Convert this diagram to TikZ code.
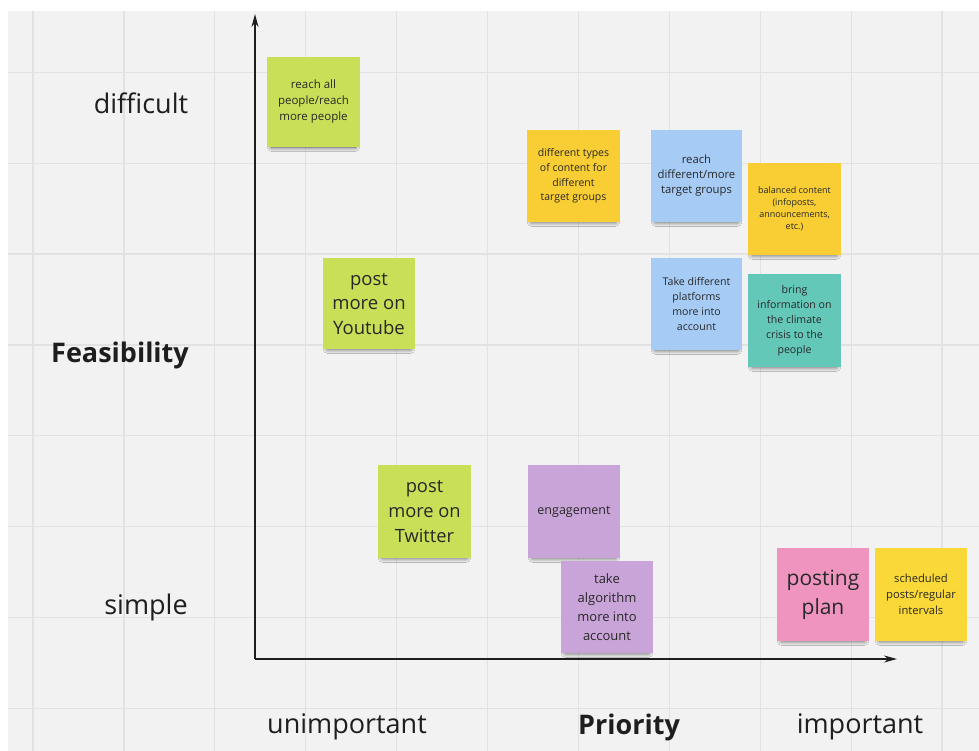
\documentclass[tikz,border=0pt]{standalone}
\usepackage{fontspec}
\setmainfont{Open Sans}
\usetikzlibrary{arrows.meta,shadows.blur}

% board colours
\definecolor{boardbg}{RGB}{242,242,242}
\definecolor{gridline}{RGB}{226,226,226}
\definecolor{axisink}{RGB}{30,30,30}
\definecolor{notetext}{RGB}{40,40,40}
% sticky-note colours
\definecolor{notelime}{RGB}{201,223,88}
\definecolor{noteamber}{RGB}{248,206,52}
\definecolor{noteyellow}{RGB}{249,216,55}
\definecolor{noteblue}{RGB}{166,204,245}
\definecolor{noteteal}{RGB}{100,200,185}
\definecolor{noteviolet}{RGB}{201,164,216}
\definecolor{notepink}{RGB}{238,148,190}

\newcommand\notefont[2]{\fontsize{#1}{#2}\selectfont}

\tikzset{
  note/.style={rectangle, minimum width=92pt, minimum height=92pt,
    inner sep=2pt, align=center, text=notetext,
    blur shadow={shadow xshift=0pt, shadow yshift=-5pt, shadow scale=0.9,
      shadow blur radius=5pt, shadow blur steps=14, shadow opacity=70}},
  axislabel/.style={text=axisink, font=\notefont{27}{31}, inner sep=0pt},
  axisline/.style={draw=axisink, line width=1.3pt,
    -{Stealth[length=13pt,width=7pt]}},
}

\begin{document}
\begin{tikzpicture}[x=1pt,y=-1pt]
  % paper and board
  \fill[white] (0,0) rectangle (979,751);
  \useasboundingbox (0,0) rectangle (979,751);
  \fill[boardbg] (8,11) rectangle (979,751);
  % grid
  \foreach \k in {0,...,10}
    \draw[gridline, line width=1.2pt] ({33+90.9*\k},11) -- ({33+90.9*\k},751);
  \foreach \k in {0,...,7}
    \draw[gridline, line width=1.2pt] (8,{72.5+90.8*\k}) -- (979,{72.5+90.8*\k});

  % axes
  \coordinate (origin) at (255,659);
  \coordinate (ytip) at (255,14);
  \coordinate (xtip) at (897,659);
  \draw[axisline] (origin) -- (ytip);
  \draw[axisline] (origin) -- (xtip);

  % axis labels
  \node[axislabel] (difficult) at (141,103) {difficult};
  \node[axislabel, font=\notefont{27}{31}\bfseries] (feasibility) at (120,355) {Feasibility};
  \node[axislabel] (simple) at (146,607) {simple};
  \node[axislabel] (unimportant) at (347,727) {unimportant};
  \node[axislabel, font=\notefont{27}{31}\bfseries] (priority) at (629,727) {Priority};
  \node[axislabel] (important) at (860,727) {important};

  % sticky notes
  \node[note, fill=notelime, minimum width=93pt, minimum height=90pt,
    font=\notefont{11.5}{16}] (reachall) at (313.5,102)
    {reach all\\people/reach\\more people};
  \node[note, fill=noteamber, minimum width=93pt,
    font=\notefont{10.5}{14.7}] (contenttypes) at (573.5,176)
    {different types\\of content for\\different\\target groups};
  \node[note, fill=noteblue, minimum width=91pt,
    font=\notefont{11.3}{15}] (reachgroups) at (696.5,176)
    {reach\\different/more\\target groups};
  \node[note, fill=noteamber, minimum width=93pt,
    font=\notefont{9}{12}] (balanced) at (794.5,209)
    {balanced content\\(infoposts,\\announcements,\\etc.)};
  \node[note, fill=noteblue, minimum width=91pt,
    font=\notefont{10.6}{15}] (platforms) at (696.5,304)
    {Take different\\platforms\\more into\\account};
  \node[note, fill=noteteal, minimum width=93pt, minimum height=93pt,
    font=\notefont{10.6}{15}] (climate) at (794.5,320.5)
    {bring\\information on\\the climate\\crisis to the\\people};
  \node[note, fill=notelime, minimum width=92pt, minimum height=91pt,
    font=\notefont{18.5}{24.5}] (youtube) at (369,303.5)
    {post\\more on\\Youtube};
  \node[note, fill=notelime, minimum width=93pt, minimum height=93pt,
    font=\notefont{18.3}{25}] (twitter) at (424.5,511.5)
    {post\\more on\\Twitter};
  \node[note, fill=noteviolet, minimum height=93pt,
    font=\notefont{12.5}{16}] (engagement) at (574,511.5)
    {engagement};
  \node[note, fill=noteviolet,
    font=\notefont{13}{19}] (algorithm) at (607,607)
    {take\\algorithm\\more into\\account};
  \node[note, fill=notepink, minimum height=93pt,
    font=\notefont{21}{29}] (postingplan) at (823,594.5)
    {posting\\plan};
  \node[note, fill=noteyellow, minimum height=93pt,
    font=\notefont{11.2}{16}] (scheduled) at (921,594.5)
    {scheduled\\posts/regular\\intervals};
\end{tikzpicture}
\end{document}
